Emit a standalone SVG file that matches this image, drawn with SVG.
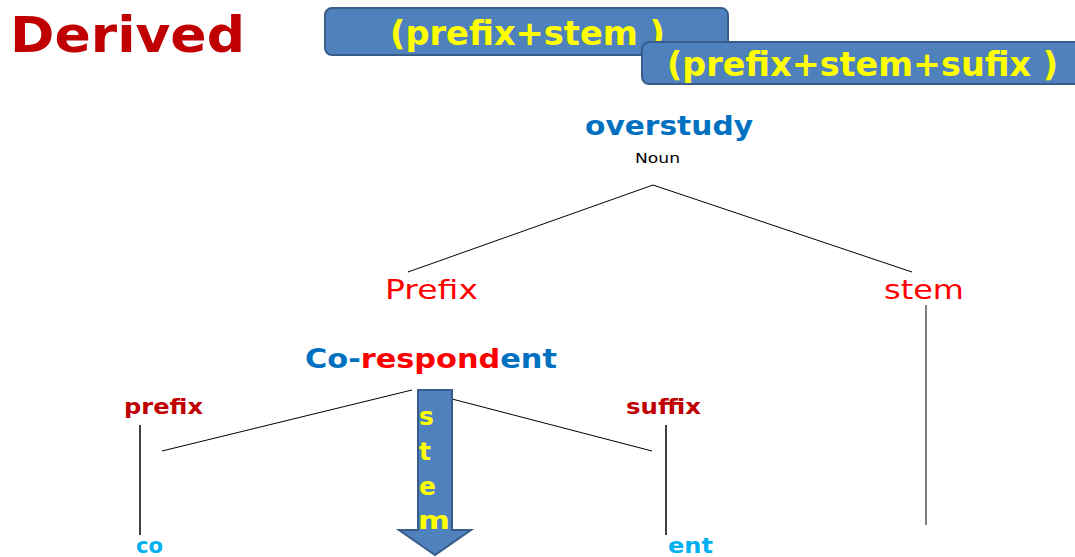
<svg xmlns="http://www.w3.org/2000/svg" width="1075" height="557" viewBox="0 0 1075 557">
  <style>
    .b { font-family: "DejaVu Sans", Verdana, sans-serif; font-weight: bold; }
    .n { font-family: "DejaVu Sans", Verdana, sans-serif; font-weight: normal; }
    .box { fill: #4F81BD; stroke: #385D8A; stroke-width: 2; }
    .yel { fill: #FFFF00; }
    .edge { stroke: #000; stroke-width: 1; fill: none; }
    .stalk { stroke: #404040; stroke-width: 2; fill: none; }
  </style>
  <rect width="1075" height="557" fill="#fff"/>

  <g id="title">
    <text class="b" x="10" y="52" font-size="50" fill="#C00000" textLength="235" lengthAdjust="spacingAndGlyphs">Derived</text>
  </g>

  <g id="formula-1">
    <rect class="box" x="325" y="8" width="403" height="47" rx="7"/>
    <text class="b yel" x="390" y="45" font-size="34" textLength="275" lengthAdjust="spacingAndGlyphs">(prefix+stem )</text>
  </g>

  <g id="formula-2">
    <rect class="box" x="642" y="42" width="440" height="42" rx="7"/>
    <text class="b yel" x="667" y="76" font-size="33" textLength="391" lengthAdjust="spacingAndGlyphs">(prefix+stem+sufix )</text>
  </g>

  <g id="connectors">
    <line class="edge" x1="653" y1="185" x2="408" y2="272"/>
    <line class="edge" x1="653" y1="185" x2="912" y2="272"/>
    <line class="edge" x1="926" y1="305" x2="926" y2="525"/>
    <line class="edge" x1="412" y1="390" x2="162" y2="451"/>
    <line class="edge" x1="452" y1="399" x2="652" y2="451"/>
    <line class="stalk" x1="140" y1="425" x2="140" y2="535"/>
    <line class="stalk" x1="666" y1="425" x2="666" y2="535"/>
  </g>

  <g id="node-overstudy">
    <text class="b" x="585" y="135" font-size="27" fill="#0070C0" textLength="168" lengthAdjust="spacingAndGlyphs">overstudy</text>
    <text class="n" x="635" y="163" font-size="14" fill="#000" textLength="45" lengthAdjust="spacingAndGlyphs">Noun</text>
  </g>

  <g id="node-prefix">
    <text class="n" x="385" y="299" font-size="27" fill="#FF0000" textLength="93" lengthAdjust="spacingAndGlyphs">Prefix</text>
  </g>

  <g id="node-stem">
    <text class="n" x="884" y="299" font-size="27" fill="#FF0000" textLength="80" lengthAdjust="spacingAndGlyphs">stem</text>
  </g>

  <g id="node-correspondent">
    <text class="b" x="305" y="368" font-size="26" textLength="252" lengthAdjust="spacingAndGlyphs"><tspan fill="#0070C0">Co-</tspan><tspan fill="#FF0000">respond</tspan><tspan fill="#0070C0">ent</tspan></text>
  </g>

  <g id="node-stem-arrow">
    <path class="box" d="M418,390 H452 V530 H471 L435,555 L399,530 H418 Z"/>
    <g class="b yel" font-size="25">
      <text x="419" y="425">s</text>
      <text x="419" y="460">t</text>
      <text x="419" y="495">e</text>
      <text x="418" y="529" textLength="32" lengthAdjust="spacingAndGlyphs">m</text>
    </g>
  </g>

  <g id="node-prefix-small">
    <text class="b" x="124" y="414" font-size="21" fill="#C00000" textLength="79" lengthAdjust="spacingAndGlyphs">prefix</text>
  </g>

  <g id="node-suffix-small">
    <text class="b" x="626" y="414" font-size="21" fill="#C00000" textLength="75" lengthAdjust="spacingAndGlyphs">suffix</text>
  </g>

  <g id="node-co">
    <text class="b" x="136" y="553" font-size="21" fill="#00B0F0" textLength="27" lengthAdjust="spacingAndGlyphs">co</text>
  </g>

  <g id="node-ent">
    <text class="b" x="668" y="553" font-size="21" fill="#00B0F0" textLength="45" lengthAdjust="spacingAndGlyphs">ent</text>
  </g>
</svg>
